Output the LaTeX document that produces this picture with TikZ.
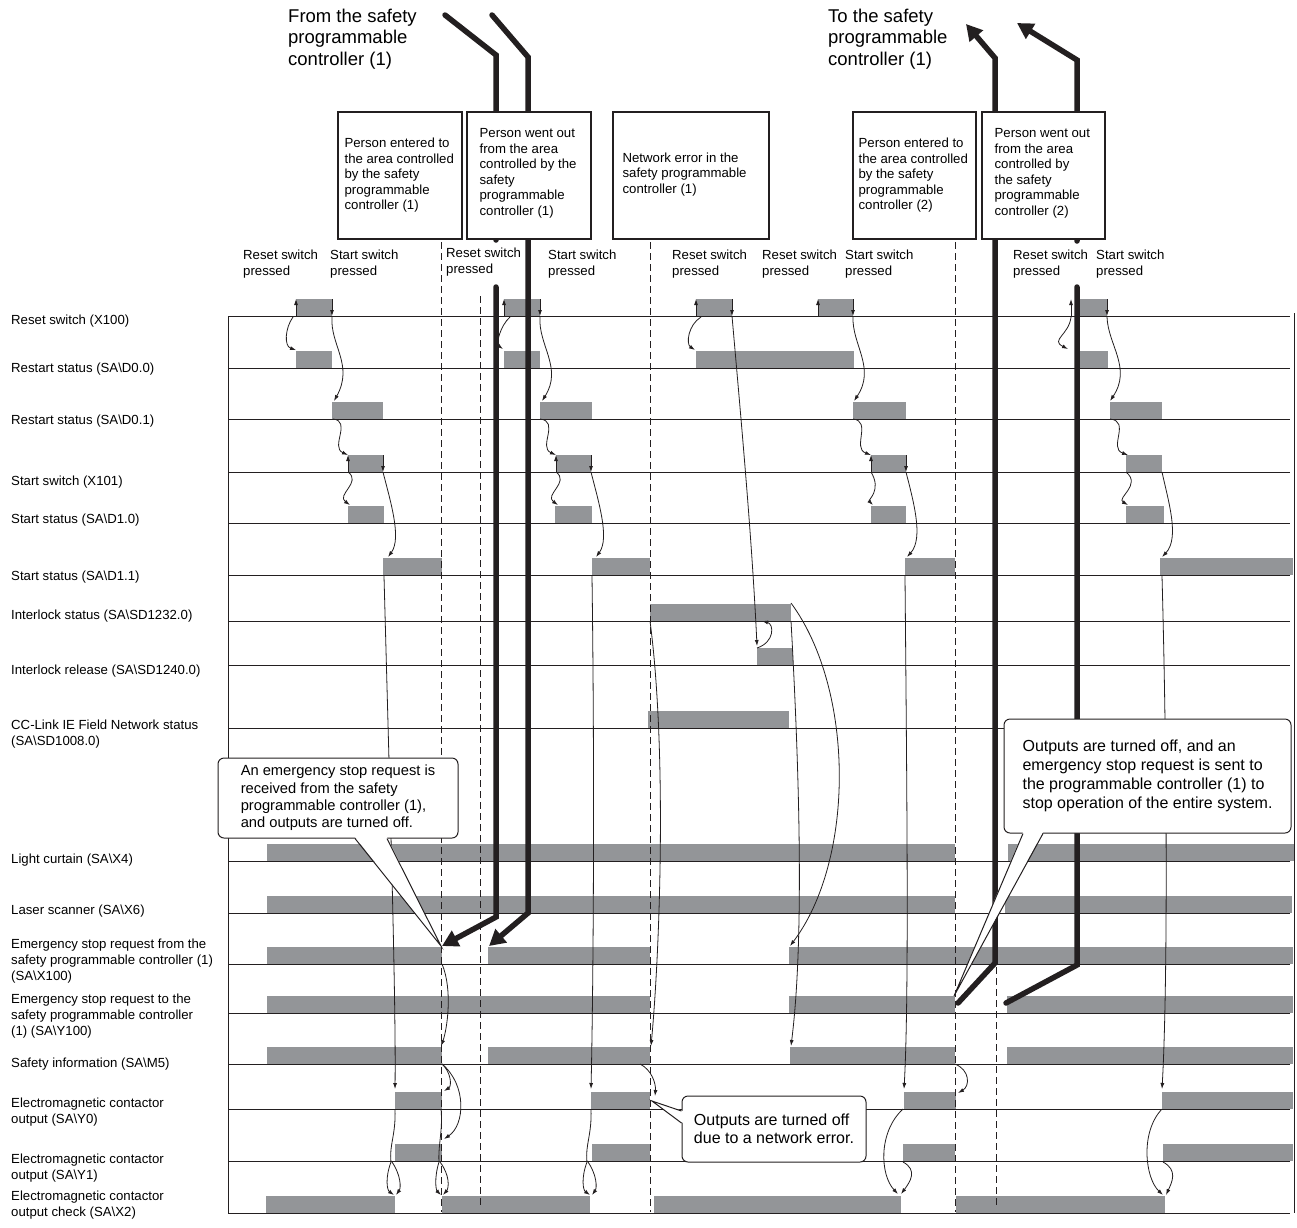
\documentclass[tikz,border=0pt]{standalone}
\usepackage{fontspec}
\setmainfont{Liberation Sans}
\usetikzlibrary{arrows.meta}
\definecolor{bargray}{RGB}{147,149,152}
\definecolor{ink}{RGB}{35,31,32}

\begin{document}
\begin{tikzpicture}[x=1pt, y=-1pt,
    sigbar/.style={fill=bargray},
    rowline/.style={ink, line width=1pt},
    guide/.style={ink, line width=1pt, dash pattern=on 7pt off 4pt},
    flow/.style={ink, line width=0.8pt, -{Latex[length=6pt,width=4pt]}},
    wire/.style={ink, line width=0.8pt},
    bigflow/.style={ink, line width=5.5pt, line cap=round},
    bighead/.style={-{Triangle[length=16pt,width=17pt]}},
    infobox/.style={draw=ink, line width=1.2pt, fill=white, inner sep=0pt},
    lab/.style={anchor=west, align=left, inner sep=0pt, font=\fontsize{13.2}{16}\selectfont},
    boxtext/.style={anchor=west, align=left, inner sep=0pt, font=\fontsize{13.2}{15.5}\selectfont},
    heading/.style={anchor=west, align=left, inner sep=0pt, font=\fontsize{18.5}{21.5}\selectfont},
    callout/.style={draw=ink, line width=1pt, fill=white, rounded corners=6pt, align=left, inner sep=0pt},
]
    \useasboundingbox (0,0) rectangle (1297,1227);

    % === Signal bars (base line / from / to) ===
    \foreach \yb/\xa/\xb in {316/296/332, 316/504/540, 316/696/732, 316/818/853, 316/1078/1107,
        368/296/332, 368/504/540, 368/696/854, 368/1078/1108,
        419/332/383, 419/540/592, 419/853/906, 419/1110/1162,
        472/348/383, 472/556/591, 472/871/906, 472/1126/1162,
        523/348/384, 523/555/592, 523/871/906, 523/1126/1164,
        575/383/441.5, 575/592/650, 575/905/955, 575/1160/1293,
        621/650/791, 665/757/793, 728/648/789,
        861/267/955, 861/1008/1294,
        913/267/955, 913/1005/1292,
        964/267/441.5, 964/488/650, 964/789/1293,
        1013/267/650, 1013/789/955, 1013/1007/1293,
        1064/267/441.5, 1064/488/650, 1064/790/955, 1064/1007/1293,
        1109/395/441.5, 1109/591/650, 1109/904/956, 1109/1162/1293,
        1161/395/441.5, 1161/592/650, 1161/903/955, 1161/1163/1293,
        1213/266/395, 1213/441.5/590, 1213/654/901, 1213/956/1165}
        \fill[sigbar] (\xa,\yb) rectangle (\xb,\yb-17);

    % Base lines and frame
    \foreach \yr in {316,368,419,472,523,575,621,665,728,861,913,964,1013,1064,1109,1161,1213}
        \draw[rowline] (228,\yr) -- (1290,\yr);
    \draw[rowline] (228,316) -- (228,1213);
    \draw[rowline] (1294,313) -- (1294,1213);

    % Event guides
    \draw[guide] (441.5,242) -- (441.5,1212);
    \draw[guide] (480,296) -- (480,1207);
    \draw[guide] (650.5,242) -- (650.5,1212);
    \draw[guide] (955.5,242) -- (955.5,1212);
    \draw[guide] (996,296) -- (996,1207);

    % === CYCLE 1 ===
    \draw[flow] (296,316) -- (296,299);
    \draw[flow] (332,299) -- (332,316);
    \draw[flow] (293,317) .. controls (285,328) and (284,346) .. (296,350);
    \draw[flow] (332,317) .. controls (330,345) and (354,365) .. (334,401);
    \draw[flow] (333,419) .. controls (352,421) and (330,447) .. (348,455);
    \draw[flow] (348,472) -- (348,455);
    \draw[flow] (383,455) -- (383,472);
    \draw[flow] (348,472) .. controls (362,482) and (336,495) .. (350,505);
    \draw[flow] (383,472) .. controls (390,500) and (402,538) .. (388,557);
    \draw[flow] (384,576) .. controls (390,800) and (396,1000) .. (395,1089);
    \draw[wire] (395,1109) .. controls (396,1135) and (389,1145) .. (391,1162);
    \draw[flow] (391,1162) .. controls (385,1178) and (387,1190) .. (394,1195);
    \draw[flow] (392,1162) .. controls (401,1175) and (401,1188) .. (396,1195);

    % Stop request from controller (1)
    \draw[flow] (442,964) .. controls (453,990) and (447,1030) .. (441,1046);
    \draw[flow] (442,1064) .. controls (451,1072) and (452,1086) .. (444,1091);
    \draw[flow] (442,1064) .. controls (467,1085) and (465,1125) .. (444,1139);
    \draw[wire] (441,1109) .. controls (443,1130) and (438,1145) .. (439,1162);
    \draw[flow] (439,1162) .. controls (434,1178) and (436,1190) .. (441,1195);
    \draw[flow] (440,1162) .. controls (450,1175) and (449,1188) .. (443,1195);

    % === CYCLE 2 ===
    \draw[flow] (504,316) -- (504,299);
    \draw[flow] (540,299) -- (540,316);
    \draw[flow] (510,317) .. controls (500,326) and (496,344) .. (503,349);
    \draw[flow] (540,317) .. controls (538,345) and (563,368) .. (542,401);
    \draw[flow] (540,419) .. controls (560,421) and (538,447) .. (556,455);
    \draw[flow] (556,472) -- (556,455);
    \draw[flow] (591,455) -- (591,472);
    \draw[flow] (556,472) .. controls (570,482) and (544,495) .. (558,505);
    \draw[flow] (591,472) .. controls (598,500) and (610,538) .. (596,557);
    \draw[flow] (592,576) .. controls (595,800) and (593,1000) .. (591,1089);
    \draw[wire] (591,1109) .. controls (592,1135) and (585,1145) .. (587,1162);
    \draw[flow] (587,1162) .. controls (581,1178) and (583,1190) .. (590,1195);
    \draw[flow] (588,1162) .. controls (597,1175) and (597,1188) .. (592,1195);

    % === NETWORK ERROR ===
    \draw[flow] (650,621) .. controls (667,750) and (660,950) .. (651,1046);
    \draw[flow] (640,1064) .. controls (652,1070) and (656,1084) .. (655,1096);
    \draw[flow] (696,316) -- (696,299);
    \draw[flow] (732,299) -- (732,316);
    \draw[flow] (701,317) .. controls (688,325) and (686,344) .. (695,350);
    \draw[flow] (732,316) .. controls (742,430) and (752,540) .. (757,646);
    \draw[flow] (757,648) .. controls (775,642) and (774,624) .. (762,621);
    \draw[flow] (791,603) .. controls (855,690) and (855,860) .. (790,946);
    \draw[flow] (791,621) .. controls (801,800) and (803,950) .. (791,1046);

    % === CYCLE 3 ===
    \draw[flow] (818,316) -- (818,299);
    \draw[flow] (853,299) -- (853,316);
    \draw[flow] (853,317) .. controls (852,345) and (876,368) .. (854,401);
    \draw[flow] (853,419) .. controls (872,421) and (852,448) .. (871,455);
    \draw[flow] (871,472) -- (871,455);
    \draw[flow] (906,455) -- (906,472);
    \draw[flow] (871,472) .. controls (882,490) and (868,500) .. (873,505);
    \draw[flow] (906,472) .. controls (913,500) and (924,538) .. (907,557);
    \draw[flow] (905,576) .. controls (907,800) and (909,1000) .. (904,1089);
    \draw[flow] (903,1109) .. controls (878,1132) and (880,1175) .. (898,1194);
    \draw[flow] (903,1162) .. controls (918,1170) and (910,1182) .. (901,1194);
    \draw[flow] (955,1064) .. controls (970,1070) and (970,1086) .. (958,1093);

    % === CYCLE 4 ===
    \draw[flow] (1071,316) -- (1071,299);
    \draw[flow] (1107,299) -- (1107,316);
    \draw[flow] (1071,317) .. controls (1069,335) and (1050,340) .. (1068,349);
    \draw[flow] (1107,317) .. controls (1108,345) and (1132,368) .. (1110,401);
    \draw[flow] (1110,419) .. controls (1131,421) and (1108,448) .. (1128,455);
    \draw[flow] (1126,472) .. controls (1142,485) and (1116,498) .. (1128,505);
    \draw[flow] (1162,472) .. controls (1168,500) and (1180,538) .. (1162,557);
    \draw[flow] (1162,576) .. controls (1168,800) and (1167,1000) .. (1162,1089);
    \draw[flow] (1162,1109) .. controls (1140,1132) and (1145,1178) .. (1163,1195);
    \draw[flow] (1163,1162) .. controls (1178,1170) and (1172,1182) .. (1166,1195);

    % === Thick lines to and from controller (1) ===
    \draw[bigflow] (445,15) -- (496,55) -- (496,240);
    \draw[bigflow, bighead] (496,287) -- (496,917) -- (442,946);
    \draw[bigflow, bighead] (492,15) -- (528,57) -- (528,913) -- (489,946);
    \draw[bigflow, bighead] (958,1003) -- (995,963) -- (995,58) -- (966,24);
    \draw[bigflow] (1006,1003) -- (1077,965) -- (1077,287);
    \draw[bigflow, bighead] (1077,241) -- (1077,60) -- (1017,23);

    % Event boxes
    \node[infobox, minimum width=124pt, minimum height=127pt] (enter1) at (400,175.5) {};
    \node[boxtext] (enter1txt) at ([xshift=7pt]enter1.west) {Person entered to\\the area controlled\\by the safety\\programmable\\controller (1)};
    \node[infobox, minimum width=124pt, minimum height=127pt] (leave1) at (529,175.5) {};
    \node[boxtext] (leave1txt) at ([xshift=13pt,yshift=2pt]leave1.west) {Person went out\\from the area\\controlled by the\\safety\\programmable\\controller (1)};
    \node[infobox, minimum width=156pt, minimum height=127pt] (neterr) at (691,175.5) {};
    \node[boxtext] (neterrtxt) at ([xshift=10pt,yshift=1pt]neterr.west) {Network error in the\\safety programmable\\controller (1)};
    \node[infobox, minimum width=123pt, minimum height=127pt] (enter2) at (914.5,175.5) {};
    \node[boxtext] (enter2txt) at ([xshift=6pt]enter2.west) {Person entered to\\the area controlled\\by the safety\\programmable\\controller (2)};
    \node[infobox, minimum width=123pt, minimum height=127pt] (leave2) at (1043.5,175.5) {};
    \node[boxtext] (leave2txt) at ([xshift=13pt,yshift=2pt]leave2.west) {Person went out\\from the area\\controlled by\\the safety\\programmable\\controller (2)};

    % Headings
    \node[heading] (fromctl) at (288,39) {From the safety\\programmable\\controller (1)};
    \node[heading] (toctl) at (828,39) {To the safety\\programmable\\controller (1)};

    % Switch events
    \node[lab] (rst1) at (243,264) {Reset switch\\pressed};
    \node[lab] (sta1) at (330,264) {Start switch\\pressed};
    \node[lab] (rst2) at (446,262) {Reset switch\\pressed};
    \node[lab] (sta2) at (548,264) {Start switch\\pressed};
    \node[lab] (rst3) at (672,264) {Reset switch\\pressed};
    \node[lab] (rst4) at (762,264) {Reset switch\\pressed};
    \node[lab] (sta3) at (845,264) {Start switch\\pressed};
    \node[lab] (rst5) at (1013,264) {Reset switch\\pressed};
    \node[lab] (sta4) at (1096,264) {Start switch\\pressed};

    % Signal names
    \node[lab] (sRst) at (11,321) {Reset switch (X100)};
    \node[lab] (sRs0) at (11,369) {Restart status (SA\textbackslash D0.0)};
    \node[lab] (sRs1) at (11,421) {Restart status (SA\textbackslash D0.1)};
    \node[lab] (sSta) at (11,482) {Start switch (X101)};
    \node[lab] (sSs0) at (11,520) {Start status (SA\textbackslash D1.0)};
    \node[lab] (sSs1) at (11,577) {Start status (SA\textbackslash D1.1)};
    \node[lab] (sIls) at (11,616) {Interlock status (SA\textbackslash SD1232.0)};
    \node[lab] (sIlr) at (11,671) {Interlock release (SA\textbackslash SD1240.0)};
    \node[lab] (sNet) at (11,734) {CC-Link IE Field Network status\\(SA\textbackslash SD1008.0)};
    \node[lab] (sLc) at (11,860) {Light curtain (SA\textbackslash X4)};
    \node[lab] (sLs) at (11,911) {Laser scanner (SA\textbackslash X6)};
    \node[lab] (sEin) at (11,961) {Emergency stop request from the\\safety programmable controller (1)\\(SA\textbackslash X100)};
    \node[lab] (sEout) at (11,1016) {Emergency stop request to the\\safety programmable controller\\(1) (SA\textbackslash Y100)};
    \node[lab] (sSi) at (11,1064) {Safety information (SA\textbackslash M5)};
    \node[lab] (sY0) at (11,1112) {Electromagnetic contactor\\output (SA\textbackslash Y0)};
    \node[lab] (sY1) at (11,1168) {Electromagnetic contactor\\output (SA\textbackslash Y1)};
    \node[lab] (sX2) at (11,1205) {Electromagnetic contactor\\output check (SA\textbackslash X2)};

    % === Callouts ===
    \node[callout, minimum width=240pt, minimum height=80pt, font=\fontsize{14.7}{17.3}\selectfont] (stopin) at (338,798)
        {An emergency stop request is\\received from the safety\\programmable controller (1),\\and outputs are turned off.};
    \fill[white] ([xshift=17pt,yshift=1.5pt]stopin.south) -- (441,946) -- ([xshift=49pt,yshift=1.5pt]stopin.south) -- cycle;
    \draw[ink, line width=1pt] ([xshift=17pt]stopin.south) -- (441,946) -- ([xshift=49pt]stopin.south);

    \node[callout, minimum width=287pt, minimum height=114pt, font=\fontsize{16}{19}\selectfont] (stopout) at (1147.5,776)
        {Outputs are turned off, and an\\emergency stop request is sent to\\the programmable controller (1) to\\stop operation of the entire system.};
    \fill[white] ([xshift=-124.5pt,yshift=1.5pt]stopout.south) -- (954,996) -- ([xshift=-104.5pt,yshift=1.5pt]stopout.south) -- cycle;
    \draw[ink, line width=1pt] ([xshift=-124.5pt]stopout.south) -- (954,996) -- ([xshift=-104.5pt]stopout.south);

    \node[callout, minimum width=184pt, minimum height=66pt, font=\fontsize{16}{18.3}\selectfont] (neterrout) at (774,1129)
        {Outputs are turned off\\due to a network error.};
    \fill[white] ([xshift=1.5pt,yshift=18pt]neterrout.west) -- (652,1101) -- ([xshift=1.5pt,yshift=6pt]neterrout.west) -- cycle;
    \draw[ink, line width=1pt] ([yshift=18pt]neterrout.west) -- (652,1101) -- ([yshift=6pt]neterrout.west);
\end{tikzpicture}
\end{document}
